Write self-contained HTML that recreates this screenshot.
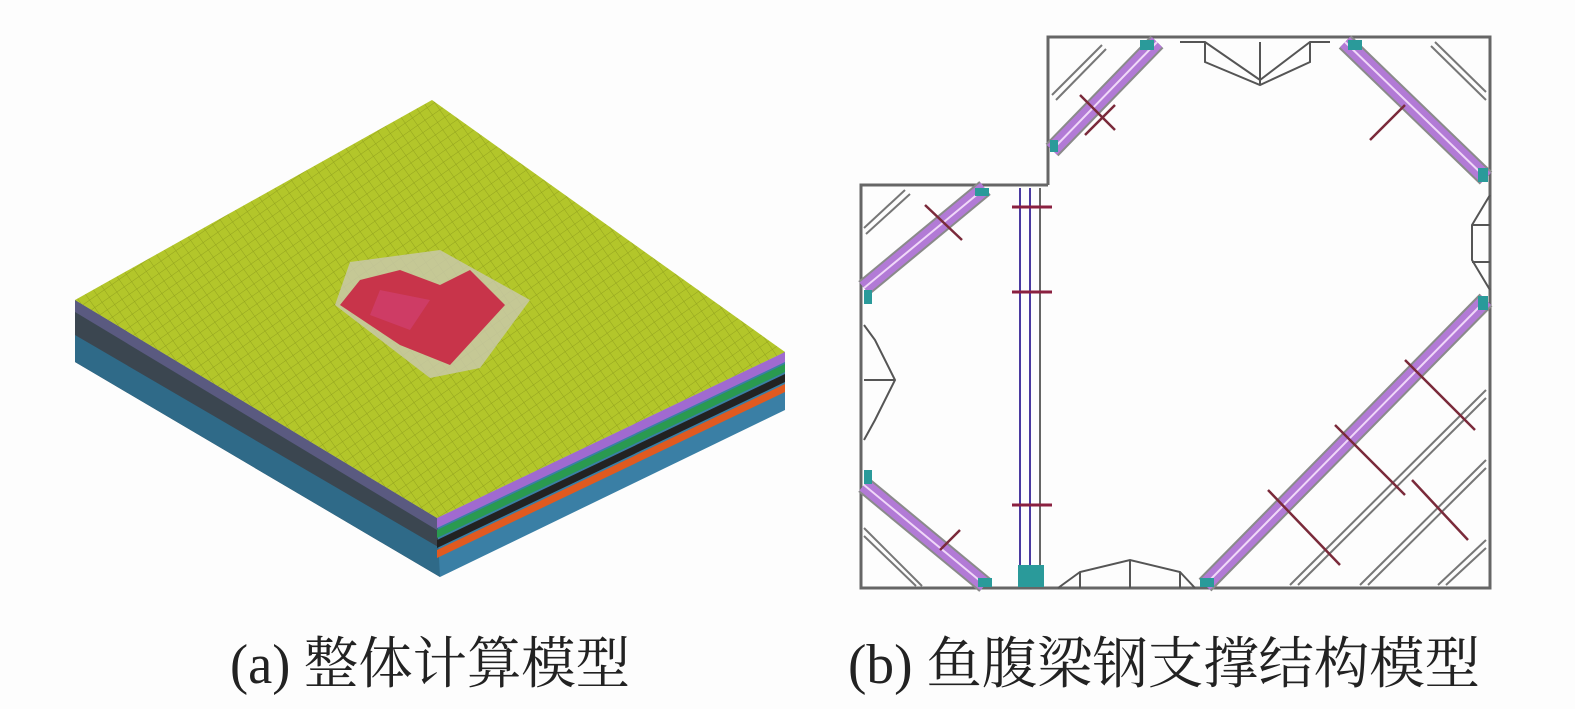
<!DOCTYPE html>
<html><head><meta charset="utf-8"><style>
html,body{margin:0;padding:0;background:#fdfdfd;}
svg{display:block}
</style></head><body>
<svg width="1575" height="709" viewBox="0 0 1575 709" xmlns="http://www.w3.org/2000/svg">
<defs>
<pattern id="mesh" width="9" height="9" patternUnits="userSpaceOnUse" patternTransform="rotate(-35)">
<rect width="9" height="9" fill="#b3c62a"/>
<path d="M0 0H9M0 0V9" stroke="#93a31e" stroke-width="1"/>
</pattern>
</defs>
<rect width="1575" height="709" fill="#fdfdfd"/>

<!-- Left slab -->
<polygon points="75,300 437,518 440,577 75,362" fill="#3b4650"/>
<polygon points="75,335 440,548 440,577 75,362" fill="#2f6a88"/>
<polygon points="75,300 437,518 437,530 75,312" fill="#5a5a80"/>
<polygon points="437,518 785,352 785,410 440,577" fill="#3a7fa5"/>
<polygon points="437,518 785,352 785,362 437,528" fill="#a06ad0"/>
<polygon points="437,530 785,364 785,372 437,538" fill="#2a9a50"/>
<polygon points="437,540 785,374 785,382 437,548" fill="#222"/>
<polygon points="437,550 785,384 785,392 437,558" fill="#e05a20"/>
<polygon points="432,100 785,352 437,518 75,300" fill="url(#mesh)"/>
<!-- hole area -->
<polygon points="350,262 440,250 530,300 480,368 430,378 335,305" fill="#c8c8a8" opacity="0.85"/>
<polygon points="360,280 400,270 440,285 470,270 505,305 450,365 400,345 340,305" fill="#c8344a"/>
<polygon points="380,290 430,300 410,330 370,315" fill="#d04070" opacity="0.7"/>

<!-- Right diagram -->
<g fill="none" stroke-linecap="butt">
<polyline points="1048,185 1048,37 1490,37 1490,588 861,588 861,185 1048,185" stroke="#666" stroke-width="3"/>
<!-- purple bands -->
<g stroke="#8a8a8a" stroke-width="18">
<line x1="1052" y1="150" x2="1157" y2="42"/>
<line x1="1345" y1="42" x2="1486" y2="178"/>
<line x1="864" y1="288" x2="985" y2="188"/>
<line x1="864" y1="485" x2="985" y2="585"/>
<line x1="1205" y1="585" x2="1486" y2="300"/>
</g>
<g stroke="#b27ad6" stroke-width="14">
<line x1="1052" y1="150" x2="1157" y2="42"/>
<line x1="1345" y1="42" x2="1486" y2="178"/>
<line x1="864" y1="288" x2="985" y2="188"/>
<line x1="864" y1="485" x2="985" y2="585"/>
<line x1="1205" y1="585" x2="1486" y2="300"/>
</g>
<g stroke="#f0d8f8" stroke-width="2">
<line x1="1052" y1="150" x2="1157" y2="42"/>
<line x1="1345" y1="42" x2="1486" y2="178"/>
<line x1="864" y1="288" x2="985" y2="188"/>
<line x1="864" y1="485" x2="985" y2="585"/>
<line x1="1205" y1="585" x2="1486" y2="300"/>
</g>
<!-- gray parallel lines -->
<g stroke="#777" stroke-width="2">
<line x1="1052" y1="95" x2="1102" y2="45"/><line x1="1056" y1="100" x2="1106" y2="49"/>
<line x1="1435" y1="42" x2="1486" y2="92"/><line x1="1431" y1="46" x2="1486" y2="100"/>
<line x1="864" y1="228" x2="905" y2="190"/><line x1="866" y1="234" x2="910" y2="194"/>
<line x1="864" y1="528" x2="922" y2="586"/><line x1="864" y1="536" x2="916" y2="586"/>
<line x1="1290" y1="585" x2="1486" y2="390"/><line x1="1298" y1="585" x2="1486" y2="398"/>
<line x1="1360" y1="585" x2="1486" y2="460"/><line x1="1368" y1="585" x2="1486" y2="468"/>
<line x1="1438" y1="585" x2="1486" y2="540"/><line x1="1446" y1="585" x2="1486" y2="548"/>
</g>
<!-- vertical strut -->
<g stroke="#4a3aa0" stroke-width="2">
<line x1="1020" y1="188" x2="1020" y2="585"/><line x1="1030" y1="188" x2="1030" y2="585"/>
</g>
<line x1="1040" y1="188" x2="1040" y2="585" stroke="#666" stroke-width="2"/>
<g stroke="#8a2040" stroke-width="3">
<line x1="1012" y1="207" x2="1052" y2="207"/><line x1="1012" y1="292" x2="1052" y2="292"/><line x1="1012" y1="505" x2="1052" y2="505"/>
</g>
<!-- crosses -->
<g stroke="#7a2a3a" stroke-width="2.5">
<line x1="1080" y1="95" x2="1115" y2="130"/><line x1="1085" y1="135" x2="1115" y2="105"/>
<line x1="925" y1="205" x2="962" y2="240"/>
<line x1="1405" y1="105" x2="1370" y2="140"/>
<line x1="1405" y1="360" x2="1475" y2="430"/>
<line x1="1335" y1="425" x2="1405" y2="495"/>
<line x1="1268" y1="490" x2="1340" y2="565"/>
<line x1="1412" y1="480" x2="1468" y2="540"/>
<line x1="960" y1="530" x2="940" y2="550"/>
</g>
<!-- fishbelly trusses -->
<g stroke="#555" stroke-width="2">
<polyline points="1180,42 1205,42 1260,80 1310,42 1330,42"/>
<polyline points="1205,42 1205,62 1260,85 1310,62 1310,42"/>
<line x1="1260" y1="42" x2="1260" y2="85"/>
<polyline points="864,325 875,340 895,380 875,420 864,440"/>
<line x1="864" y1="380" x2="895" y2="380"/>
<polyline points="1490,195 1472,225 1472,260 1490,290"/>
<line x1="1472" y1="225" x2="1490" y2="225"/><line x1="1472" y1="262" x2="1490" y2="262"/>
<polyline points="1058,588 1080,572 1130,560 1180,572 1195,588"/>
<line x1="1080" y1="572" x2="1080" y2="588"/><line x1="1130" y1="560" x2="1130" y2="588"/><line x1="1180" y1="572" x2="1180" y2="588"/>
</g>
</g>
<!-- teal joints -->
<g fill="#2a9a9a">
<rect x="1018" y="565" width="26" height="22"/>
<rect x="1140" y="40" width="14" height="10"/><rect x="1348" y="40" width="14" height="10"/>
<rect x="1050" y="140" width="8" height="12"/><rect x="1478" y="168" width="10" height="14"/>
<rect x="975" y="188" width="14" height="8"/><rect x="864" y="290" width="8" height="14"/>
<rect x="864" y="470" width="8" height="14"/><rect x="978" y="578" width="14" height="9"/>
<rect x="1478" y="296" width="10" height="14"/><rect x="1200" y="578" width="14" height="9"/>
</g>

<text x="230" y="683" font-family="'Liberation Serif','Noto Serif CJK SC',serif" font-size="56" fill="#222" textLength="400" lengthAdjust="spacingAndGlyphs">(a) 整体计算模型</text>
<text x="848" y="683" font-family="'Liberation Serif','Noto Serif CJK SC',serif" font-size="56" fill="#222" textLength="632" lengthAdjust="spacingAndGlyphs">(b) 鱼腹梁钢支撑结构模型</text>
</svg>
</body></html>
